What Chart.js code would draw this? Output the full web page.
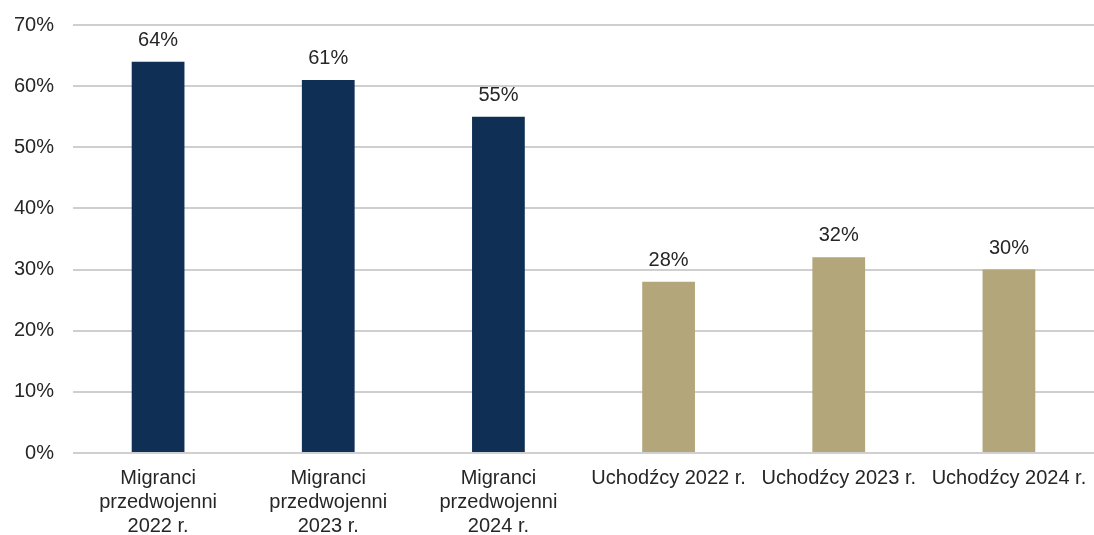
<!DOCTYPE html>
<html>
<head>
<meta charset="utf-8">
<script src="https://cdn.jsdelivr.net/npm/chart.js@4/dist/chart.umd.min.js"></script>
<style>
	html, body { margin: 0; padding: 0; background: #fff; }
	#wrap { width: 1094px; height: 535px; }
</style>
</head>
<body>
<div id="wrap"><canvas id="barChart" width="1094" height="535"></canvas></div>
<script>
const categories = [
	["Migranci", "przedwojenni", "2022 r."],
	["Migranci", "przedwojenni", "2023 r."],
	["Migranci", "przedwojenni", "2024 r."],
	"Uchodźcy 2022 r.",
	"Uchodźcy 2023 r.",
	"Uchodźcy 2024 r.",
];
const shares = [64, 61, 55, 28, 32, 30];
const barColors = ["#0f2f55", "#0f2f55", "#0f2f55", "#b2a67a", "#b2a67a", "#b2a67a"];
const yTicks = [0, 10, 20, 30, 40, 50, 60, 70];

const fontFamily = "'Liberation Sans', Arial, sans-serif";

// values above bars
const valueLabels = {
	id: "valueLabels",
	afterDatasetsDraw(chart) {
		const ctx = chart.ctx;
		const meta = chart.getDatasetMeta(0);
		ctx.save();
		ctx.font = "20px " + fontFamily;
		ctx.fillStyle = "#262626";
		ctx.textAlign = "center";
		ctx.textBaseline = "alphabetic";
		meta.data.forEach((bar, i) => {
			ctx.fillText(shares[i] + "%", bar.x, bar.y - 16);
		});
		ctx.restore();
	},
};

const ctx = document.getElementById("barChart").getContext("2d");
new Chart(ctx, {
	type: "bar",
	data: {
		labels: categories,
		datasets: [
			{
				data: shares,
				backgroundColor: barColors,
				barPercentage: 0.31,
				categoryPercentage: 1,
			},
		],
	},
	options: {
		responsive: false,
		maintainAspectRatio: false,
		animation: false,
		layout: { padding: { top: 25, right: 0, left: 0, bottom: 0 } },
		plugins: {
			legend: { display: false },
			tooltip: { enabled: false },
		},
		scales: {
			x: {
				grid: { display: false },
				border: { display: false },
				ticks: {
					color: "#262626",
					font: { family: fontFamily, size: 20, lineHeight: 1.2 },
					padding: 5,
					maxRotation: 0,
					autoSkip: false,
				},
				afterFit: (scale) => {
					scale.height = 82;
					scale.paddingLeft = 0;
					scale.paddingRight = 0;
				},
			},
			y: {
				min: 0,
				max: 70,
				afterBuildTicks: (scale) => {
					scale.ticks = yTicks.map((v) => ({ value: v }));
				},
				grid: { color: "#cfcfcf", lineWidth: 2, drawTicks: false },
				border: { display: false },
				ticks: {
					color: "#262626",
					font: { family: fontFamily, size: 20 },
					padding: 19,
					callback: (v) => v + "%",
				},
				afterFit: (scale) => {
					scale.width = 73;
					scale.paddingTop = 0;
					scale.paddingBottom = 0;
				},
			},
		},
	},
	plugins: [valueLabels],
});
</script>
</body>
</html>
